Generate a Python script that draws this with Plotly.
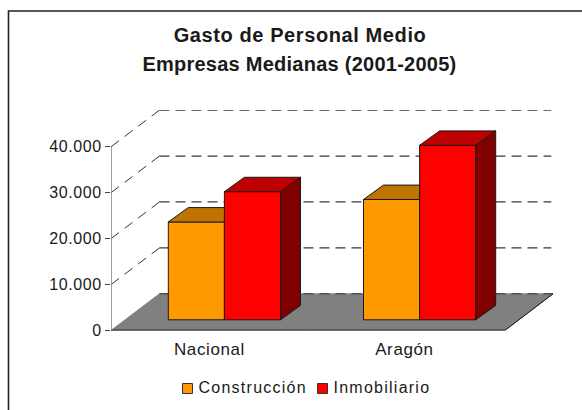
import plotly.graph_objects as go

# Data
categories = ["Nacional", "Aragón"]
series_names = ["Construcción", "Inmobiliario"]
construccion = [21300, 26200]
inmobiliario = [27900, 38000]
y_ticks = [0, 10000, 20000, 30000, 40000]
y_labels = ["0", "10.000", "20.000", "30.000", "40.000"]
title_lines = ["Gasto de Personal Medio", "Empresas Medianas (2001-2005)"]

W, H = 582, 410
X0, X1 = 111, 553      # plot area in px
Y0, Y1 = 330.5, 110
PX_PER_CAT = 196.9
PX_PER_UNIT = 183.7 / 40000

ymax = (Y0 - Y1) / PX_PER_UNIT
xmax = (X1 - X0) / PX_PER_CAT


def dx(px):
    return px / PX_PER_CAT


def dy(px):
    return px / PX_PER_UNIT


BAR_W = dx(56.1)
BAR_START = dx(57.3)
CAT_STEP = dx(195.2)
BAR_BASE = dy(10.7)
DEPTH_X, DEPTH_Y = dx(20), dy(14.4)
FLOOR_X, FLOOR_Y = dx(48.5), dy(36.7)
OUT = "#1a1a1a"
TEXT = "#1a1a1a"
GRID_END = xmax - dx(1.7)

shapes = []


def seg(x0, y0, x1, y1, color, width=1, dash=None):
    shapes.append(dict(type="line", xref="x", yref="y", x0=x0, y0=y0, x1=x1, y1=y1,
                       layer="below", line=dict(color=color, width=width, dash=dash or "solid")))


# chart frame (open on the right and bottom, as in the picture)
shapes.append(dict(type="rect", xref="paper", yref="paper", x0=8.5 / W, x1=1.02,
                   y0=-0.1, y1=1 - 11 / H, layer="below", line=dict(color="#222222", width=1.6)))

# back wall gridlines with their diagonal side part
for v in y_ticks[1:]:
    seg(0, v, FLOOR_X, v + FLOOR_Y, "#333333", 1, "10px,7px")
    seg(FLOOR_X, v + FLOOR_Y, GRID_END, v + FLOOR_Y, "#3a3a3a", 1.2, "10px,6px")

# floor
shapes.append(dict(type="path", xref="x", yref="y", layer="below",
                   path=f"M 0 0 L {FLOOR_X} {FLOOR_Y} L {xmax} {FLOOR_Y} L 2 0 Z",
                   fillcolor="#808080", line=dict(color="#808080", width=1)))
seg(FLOOR_X, FLOOR_Y, xmax, FLOOR_Y, "#333333", 1, "10px,6px")
seg(xmax, FLOOR_Y, 2, 0, "#111111", 1)
seg(0, 0, 2, 0, "#333333", 2)

# y axis line and x ticks
seg(0, 0, 0, y_ticks[-1], "#808080", 1.5)
for c in range(len(categories) + 1):
    seg(c, 0, c, -dy(4), "#444444", 1)

fig = go.Figure()


def poly(xs, ys, color):
    fig.add_trace(go.Scatter(x=xs, y=ys, mode="lines", fill="toself", fillcolor=color,
                             line=dict(color=OUT, width=1), hoverinfo="skip",
                             showlegend=False, cliponaxis=False))


lefts_c = [i * CAT_STEP + BAR_START for i in range(len(categories))]
lefts_i = [x + BAR_W for x in lefts_c]

# Faces behind the red bars: only the visible part of the orange tops
for left, v in zip(lefts_c, construccion):
    t = BAR_BASE + v
    poly([left, left + DEPTH_X, left + BAR_W, left + BAR_W, left],
         [t, t + DEPTH_Y, t + DEPTH_Y, t, t], "#BF7300")

for left, v in zip(lefts_i, inmobiliario):
    t = BAR_BASE + v
    poly([left, left + DEPTH_X, left + BAR_W + DEPTH_X, left + BAR_W, left],
         [t, t + DEPTH_Y, t + DEPTH_Y, t, t], "#BF0000")
    poly([left + BAR_W, left + BAR_W + DEPTH_X, left + BAR_W + DEPTH_X, left + BAR_W, left + BAR_W],
         [BAR_BASE, BAR_BASE + DEPTH_Y, t + DEPTH_Y, t, BAR_BASE], "#800000")

fig.add_trace(go.Bar(x=[x + BAR_W / 2 for x in lefts_c], y=construccion, base=BAR_BASE, width=BAR_W,
                     name=series_names[0], showlegend=False,
                     marker=dict(color="#FF9900", line=dict(color=OUT, width=1))))
fig.add_trace(go.Bar(x=[x + BAR_W / 2 for x in lefts_i], y=inmobiliario, base=BAR_BASE, width=BAR_W,
                     name=series_names[1], showlegend=False,
                     marker=dict(color="#FF0000", line=dict(color=OUT, width=1))))

# invisible trace that carries the category labels on the second x axis
fig.add_trace(go.Scatter(x=[0.5, 1.49], y=[0, 0], xaxis="x2", mode="markers",
                         marker=dict(opacity=0), hoverinfo="skip", showlegend=False))

# legend drawn to the picture's compact spacing
legend_items = [(182.5, "#FF9900", 199), (317.5, "#FF0000", 334)]
annotations = []
for (sx, col, tx), name in zip(legend_items, series_names):
    shapes.append(dict(type="rect", xref="paper", yref="paper", x0=sx / W, x1=(sx + 10) / W,
                       y0=1 - 393.5 / H, y1=1 - 383.5 / H, fillcolor=col, layer="above",
                       line=dict(color="#333333", width=1)))
    annotations.append(dict(text=name, xref="paper", yref="paper", x=tx / W, y=1 - 387 / H,
                            xanchor="left", yanchor="middle", showarrow=False, xshift=5,
                            font=dict(size=16, color=TEXT)))
annotations.append(dict(text=f"<b>{title_lines[1]}</b>", xref="paper", yref="paper", x=300 / W,
                        y=1 - 63.5 / H, xanchor="center", yanchor="middle", showarrow=False,
                        font=dict(size=20, color=TEXT)))

FONT = "Liberation Sans"
fig.update_layout(
    width=W, height=H, margin=dict(l=0, r=0, t=0, b=0),
    paper_bgcolor="white", plot_bgcolor="white", barmode="overlay",
    font=dict(family=FONT, size=16, color=TEXT),
    title=dict(text=f"<b>{title_lines[0]}</b>", x=300 / W, xanchor="center",
               y=1 - 35 / H, yanchor="middle", font=dict(size=20, color=TEXT)),
    xaxis=dict(domain=[X0 / W, X1 / W], range=[0, xmax], showgrid=False, zeroline=False,
               showline=False, showticklabels=False, ticks="", automargin=False),
    xaxis2=dict(domain=[X0 / W, X1 / W], range=[0, xmax], overlaying="x", anchor="y",
                tickvals=[0.5, 1.49], ticktext=categories, ticks="", showgrid=False,
                zeroline=False, showline=False, side="bottom", ticklabelstandoff=6,
                tickfont=dict(size=17), automargin=False),
    yaxis=dict(domain=[1 - Y0 / H, 1 - Y1 / H], range=[0, ymax], tickvals=y_ticks, ticktext=y_labels,
               ticks="outside", ticklen=5, tickcolor="#444444", showgrid=False, zeroline=False,
               showline=False, tickfont=dict(size=16), automargin=False),
    shapes=shapes, annotations=annotations, showlegend=False,
)

post = """
document.body.style.margin = '0';
document.body.style.overflow = 'hidden';
function ls(sel, v) { document.querySelectorAll(sel).forEach(function (e) { e.style.letterSpacing = v; }); }
ls('.ytick text', '0.6px');
ls('.x2tick text', '0.6px');
ls('.annotation-text', '1.25px');
ls('.gtitle', '0.6px');
document.querySelectorAll('.annotation-text').forEach(function (e) {
  if (e.textContent.indexOf('Empresas') === 0) { e.style.letterSpacing = '0.25px'; }
});
"""
fig.write_html("out.html", post_script=post, config={"displayModeBar": False})
